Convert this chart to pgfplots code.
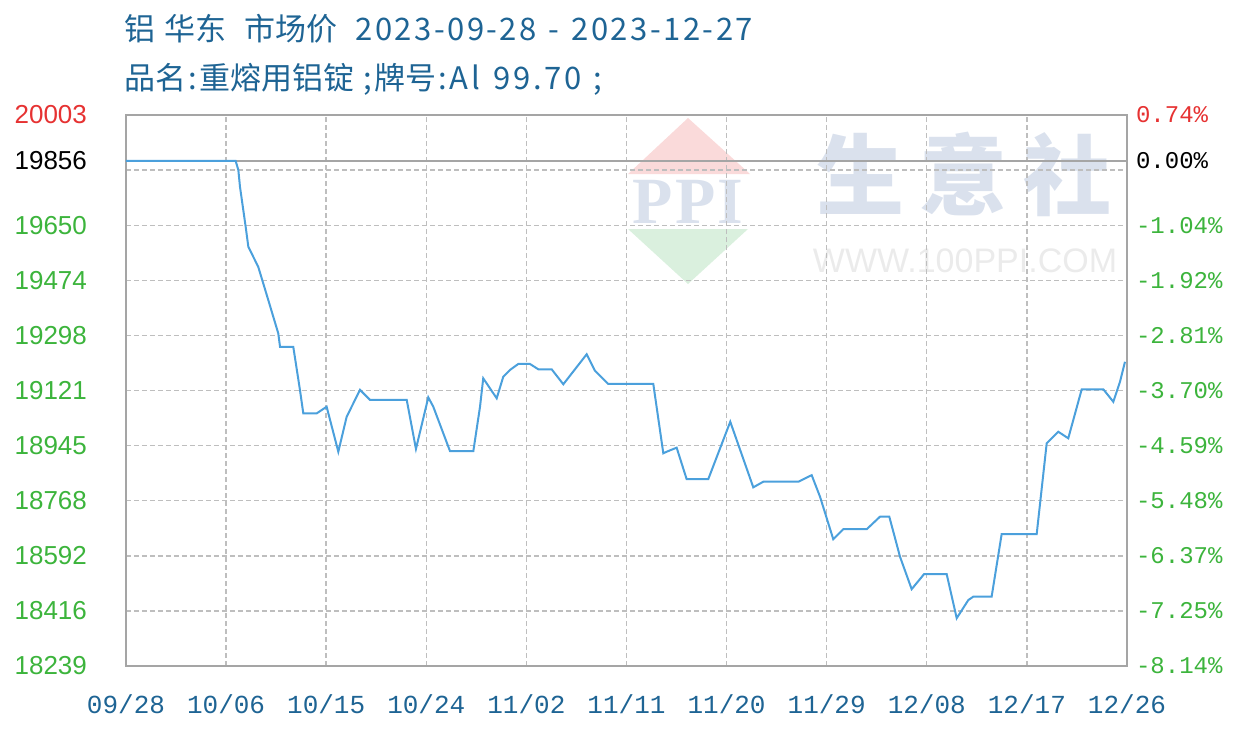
\documentclass[border=0pt]{standalone}
\usepackage{pgfplots}
\pgfplotsset{compat=1.18}
\usepackage{fontspec}
\setmainfont{Liberation Sans}
\newfontfamily\cjk{Noto Sans CJK SC}
\newfontfamily\cjkl[LetterSpace=8]{Noto Sans CJK SC}
\newfontfamily\monof{Liberation Mono}
\newfontfamily\serifb{Liberation Serif}
\definecolor{titleblue}{RGB}{30,100,148}
\definecolor{tickgreen}{RGB}{60,180,60}
\definecolor{tickred}{RGB}{230,50,50}
\definecolor{lineblue}{RGB}{75,160,220}
\definecolor{gridgray}{RGB}{190,190,190}
\definecolor{framegray}{RGB}{165,165,165}
\definecolor{wmblue}{RGB}{218,225,237}
\definecolor{wmred}{RGB}{250,218,218}
\definecolor{wmgreen}{RGB}{218,240,222}
\definecolor{wmgray}{RGB}{235,235,235}
\begin{document}
\begin{tikzpicture}
\useasboundingbox (0,0) rectangle (622pt,-367pt);
% title
\node[anchor=west,inner sep=0,text=titleblue,font=\cjk\fontsize{15.5}{18}\selectfont] at (62pt,-14.5pt) {铝\hspace{4.5pt}华东\hspace{9pt}市场价\hspace{9pt}{\cjkl 2023-09-28}\hspace{6pt}{\cjkl -}\hspace{6pt}{\cjkl 2023-12-27}};
\node[anchor=west,inner sep=0,text=titleblue,font=\cjk\fontsize{15.5}{18}\selectfont] at (62pt,-39.5pt) {品名\hspace{1pt}{\cjkl:}\hspace{1pt}重熔用铝锭\hspace{5pt}{\cjkl ;}\hspace{1pt}牌号\hspace{1pt}{\cjkl :Al}\hspace{7pt}{\cjkl 99.70}\hspace{6pt}{\cjkl ;}};
% watermark
\fill[wmred] (344pt,-59pt) -- (375pt,-87pt) -- (314pt,-87pt) -- cycle;
\fill[wmgreen] (314pt,-114.5pt) -- (374pt,-114.5pt) -- (344pt,-142pt) -- cycle;
\node[text=wmblue,font=\serifb\bfseries\fontsize{33}{35}\selectfont,inner sep=0] at (344pt,-101pt) {P\hspace{1pt}P\hspace{1pt}I};
\node[text=wmblue,font=\cjk\bfseries\fontsize{44}{46}\selectfont] at (482pt,-87pt) {生\hspace{8pt}意\hspace{8pt}社};
\node[text=wmgray,font=\fontsize{17}{19}\selectfont] at (482.5pt,-130.5pt) {WWW.100PPI.COM};
\begin{axis}[
  at={(63pt,-333pt)}, anchor=south west,
  scale only axis, width=500.5pt, height=275.5pt,
  xmin=0, xmax=90, ymin=18239, ymax=20003,
  scaled y ticks=false,
  axis line style={framegray, line width=1pt},
  xtick={0,9,...,90},
  xticklabels={09/28,10/06,10/15,10/24,11/02,11/11,11/20,11/29,12/08,12/17,12/26},
  xticklabel style={font=\monof\fontsize{13}{15}\selectfont, text=titleblue, yshift=-11pt},
  ytick={18239,18415.4,18591.8,18768.2,18944.6,19121,19297.4,19473.8,19650.2,19826.6,20003},
  yticklabels={18239,18416,18592,18768,18945,19121,19298,19474,19650,{},{\textcolor{tickred}{20003}}},
  yticklabel style={font=\fontsize{13}{15}\selectfont, text=tickgreen, anchor=east, xshift=-16pt},
  extra y ticks={19856},
  extra y tick labels={\textcolor{black}{19856}},
  extra y tick style={grid=major, major grid style={solid, framegray, line width=1pt}},
  major tick length=0pt,
  grid=major,
  major grid style={gridgray, dash pattern=on 2.5pt off 1.5pt, line width=0.7pt},
  clip=false,
]
\addplot[lineblue, line width=1pt] coordinates {
(0,19856) (9.86,19856) (10.10,19827) (10.25,19773) (10.76,19645) (11.0,19581)
(11.89,19517) (12.79,19411) (13.69,19304) (13.85,19261) (15.04,19261) (15.64,19123)
(15.94,19048) (17.15,19048) (18.04,19069) (19.09,18925) (19.84,19037) (21.04,19123)
(21.94,19091) (25.24,19091) (26.07,18934) (27.18,19099) (27.63,19069) (29.13,18927)
(31.23,18927) (31.83,19069) (32.12,19160) (33.33,19096) (33.92,19165) (34.53,19187)
(35.27,19206) (36.32,19206) (37.07,19189) (38.27,19189) (39.32,19141) (41.42,19237)
(42.17,19184) (43.36,19142) (47.41,19142) (48.31,18920) (48.61,18925) (49.51,18938)
(50.41,18837) (52.35,18837) (54.33,19021) (56.40,18811) (57.30,18829) (60.45,18829)
(61.65,18850) (62.40,18781) (63.59,18645) (64.49,18677) (66.60,18677) (67.79,18717)
(68.63,18717) (69.59,18589) (70.64,18485) (71.75,18533) (73.79,18533) (74.69,18392)
(75.73,18450) (76.18,18461) (77.83,18461) (78.73,18661) (81.88,18661) (82.78,18952)
(83.82,18989) (84.72,18968) (85.93,19125) (87.87,19125) (88.77,19085) (89.37,19149)
(89.82,19213)
};
\end{axis}
\begin{axis}[
  at={(63pt,-333pt)}, anchor=south west,
  scale only axis, width=500.5pt, height=275.5pt,
  xmin=0, xmax=90, ymin=18239, ymax=20003,
  scaled y ticks=false,
  hide x axis, axis y line*=right, axis line style={draw=none},
  ytick={18239,18415.4,18591.8,18768.2,18944.6,19121,19297.4,19473.8,19650.2,19826.6,20003},
  yticklabels={-8.14\%,-7.25\%,-6.37\%,-5.48\%,-4.59\%,-3.70\%,-2.81\%,-1.92\%,-1.04\%,{},{\textcolor{tickred}{0.74\%}}},
  yticklabel style={font=\monof\fontsize{12}{14}\selectfont, text=tickgreen, anchor=west, xshift=1pt},
  extra y ticks={19856},
  extra y tick labels={\textcolor{black}{0.00\%}},
  major tick length=0pt,
]
\addplot[draw=none] coordinates {(0,19856) (90,19856)};
\end{axis}
\end{tikzpicture}
\end{document}
